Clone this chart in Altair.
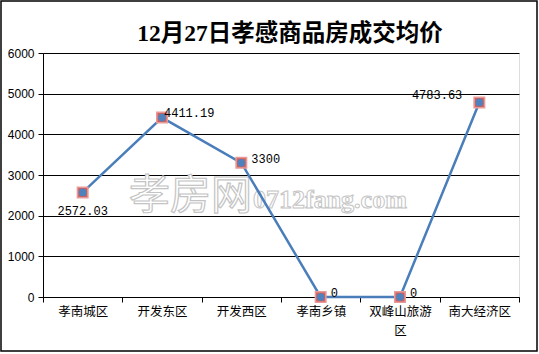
import altair as alt
import pandas as pd

categories = ["孝南城区", "开发东区", "开发西区", "孝南乡镇", "双峰山旅游区", "南大经济区"]
values = [2572.03, 4411.19, 3300, 0, 0, 4783.63]
labels = ["2572.03", "4411.19", "3300", "0", "0", "4783.63"]
placement = ["below", "upright", "right", "right", "right", "upleft"]
y_ticks = [0, 1000, 2000, 3000, 4000, 5000, 6000]
title_text = "12月27日孝感商品房成交均价"

df = pd.DataFrame({"cat": categories, "val": values, "lab": labels, "pos": placement})

CJK = "Noto Sans CJK SC"

x_enc = alt.X(
    "cat:N", sort=categories, bandPosition=0.5, title=None,
    scale=alt.Scale(type="band", paddingInner=0, paddingOuter=0),
    axis=alt.Axis(
        labelAngle=0, tickBand="extent", tickSize=5, tickColor="black",
        domainColor="black", labelFont=CJK, labelFontSize=12.5, labelColor="black",
        labelPadding=3, labelLineHeight=19, grid=False,
        labelExpr="datum.label == '双峰山旅游区' ? ['双峰山旅游', '区'] : datum.label",
    ),
)
y_enc = alt.Y(
    "val:Q", title=None,
    scale=alt.Scale(domain=[0, 6000], nice=False),
    axis=alt.Axis(
        values=y_ticks, format="d", tickSize=5, tickColor="black", domainColor="black",
        gridColor="black", gridWidth=1, gridOpacity=1,
        labelFont="Liberation Sans", labelFontSize=12, labelColor="black",
        labelPadding=4,
    ),
)

base = alt.Chart(df).encode(x=x_enc, y=y_enc)

title = alt.Chart(alt.Data(values=[{"t": title_text}])).mark_text(
    font="Liberation Serif, Noto Sans CJK SC", fontSize=23.5, fontWeight="bold",
    color="black", align="center", baseline="middle",
).encode(text="t:N", x=alt.value(247), y=alt.value(-19))

watermark1 = alt.Chart(alt.Data(values=[{"t": "孝房网"}])).mark_text(
    font=CJK, fontSize=41, fill="#ffffff", stroke="#c4c4c4", strokeWidth=1.2,
    align="left", baseline="middle",
).encode(text="t:N", x=alt.value(86), y=alt.value(144))

watermark2 = alt.Chart(alt.Data(values=[{"t": "0712fang.com"}])).mark_text(
    font="Liberation Serif", fontWeight="bold", fontSize=26, fill="#ffffff",
    stroke="#c4c4c4", strokeWidth=1, align="left", baseline="middle",
).encode(text="t:N", x=alt.value(210), y=alt.value(147))

line = base.mark_line(color="#4A7EBB", strokeWidth=2.5)
squares = base.mark_point(shape="square", size=110, filled=True, fill="#D0605C",
                          stroke="#E79A98", strokeWidth=1.5, opacity=1)
circles = base.mark_point(shape="circle", size=60, filled=True, fill="#4F81BD", opacity=1)

tfont = dict(font="Liberation Mono", fontSize=12, color="black")
lab_below = base.transform_filter(alt.datum.pos == "below").mark_text(
    align="center", baseline="middle", dy=19, **tfont).encode(text="lab:N")
lab_upright = base.transform_filter(alt.datum.pos == "upright").mark_text(
    align="left", baseline="middle", dx=2, dy=-5, **tfont).encode(text="lab:N")
lab_right = base.transform_filter(alt.datum.pos == "right").mark_text(
    align="left", baseline="middle", dx=10, dy=-4, **tfont).encode(text="lab:N")
lab_upleft = base.transform_filter(alt.datum.pos == "upleft").mark_text(
    align="right", baseline="middle", dx=-17, dy=-7, **tfont).encode(text="lab:N")

border = alt.Chart(alt.Data(values=[{}])).mark_rect(
    fill=None, stroke="black", strokeWidth=1.5,
).encode(x=alt.value(-42), x2=alt.value(494), y=alt.value(-52), y2=alt.value(298))

chart = alt.layer(
    title, watermark1, watermark2, line, squares, circles,
    lab_below, lab_upright, lab_right, lab_upleft, border,
).properties(
    width=476, height=244,
    autosize=alt.AutoSizeParams(type="none"),
    padding={"left": 43, "top": 53, "right": 20, "bottom": 57},
).configure_view(stroke=None).configure(background="white")

chart.save("out.html", embed_options={"renderer": "svg", "actions": False})
